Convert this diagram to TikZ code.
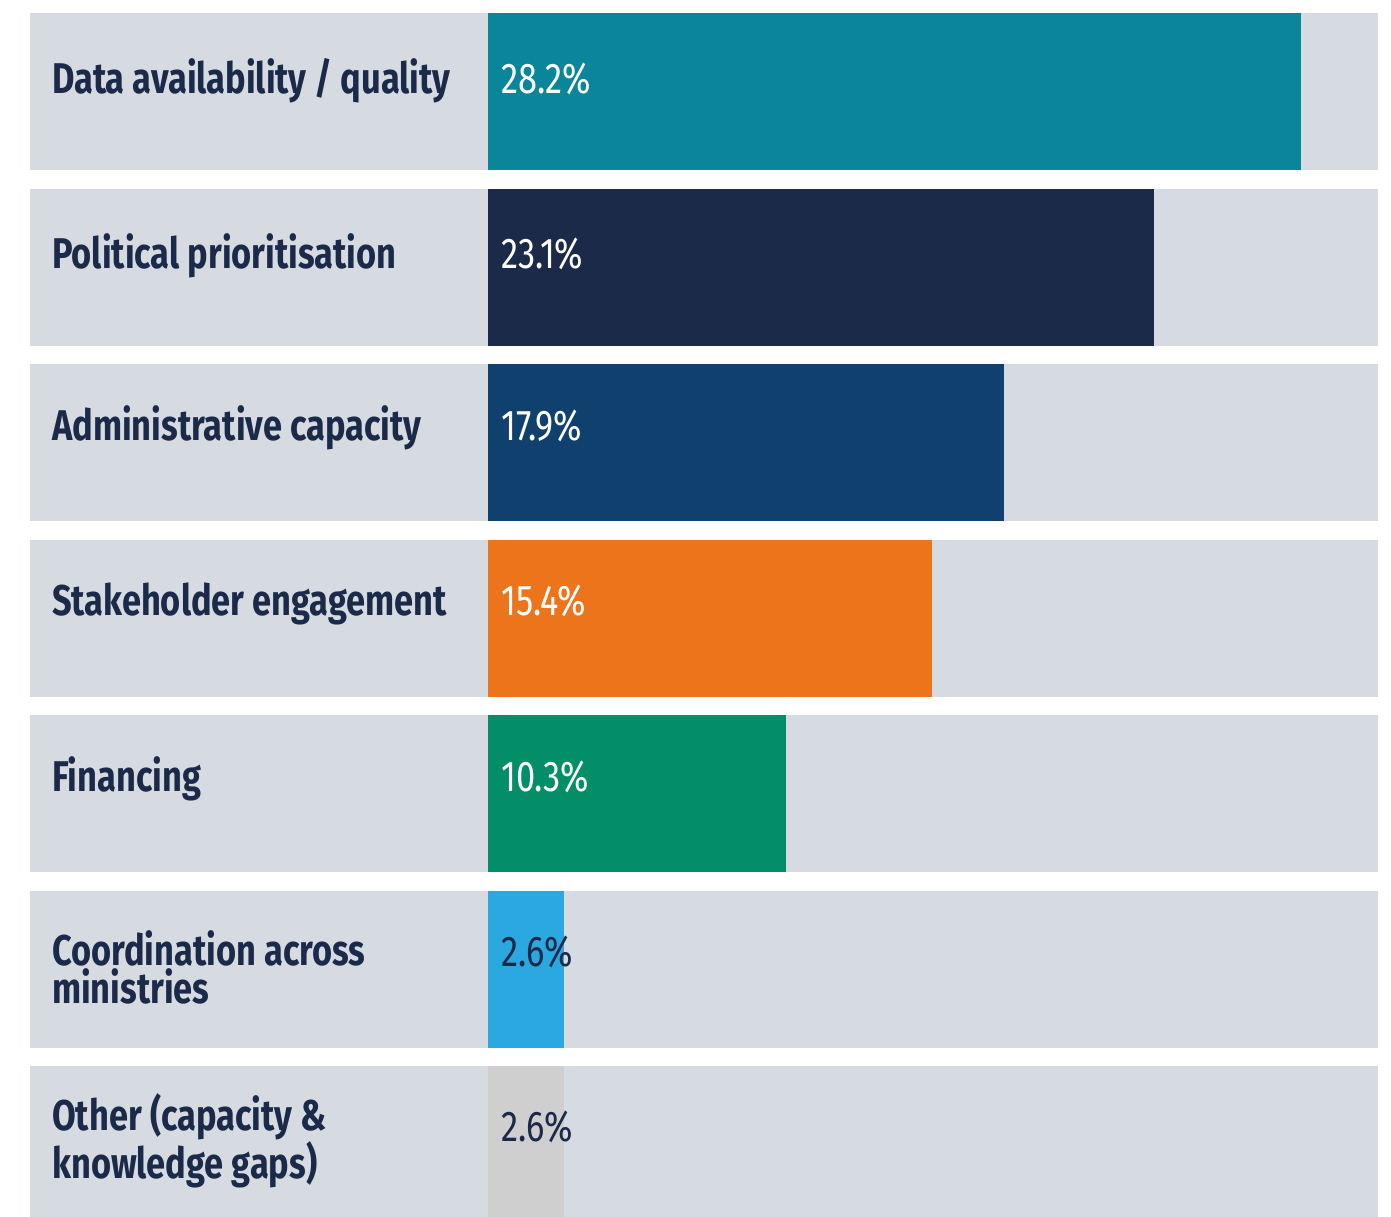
\documentclass[tikz,border=0pt]{standalone}
\usepackage{fontspec}
\setmainfont{Fira Sans}[FakeStretch=0.8]
\usepackage{xcolor}
\usetikzlibrary{positioning}
\definecolor{band}{HTML}{D6DBE2}
\definecolor{ink}{HTML}{1B2A48}
\definecolor{cteal}{HTML}{0A8599}
\definecolor{cnavy}{HTML}{1B2A48}
\definecolor{cblue}{HTML}{10416E}
\definecolor{corange}{HTML}{EC741A}
\definecolor{cgreen}{HTML}{038E68}
\definecolor{csky}{HTML}{2BA8E0}
\definecolor{cgrey}{HTML}{CFCFCF}

\tikzset{
    row/.style={rectangle, fill=band, anchor=north west, inner sep=0pt,
                minimum width=1348pt, minimum height=157pt},
    bar/.style={rectangle, anchor=north west, inner sep=0pt,
                minimum height=157pt},
    lbl/.style={anchor=base west, inner sep=0pt, align=left, text=ink,
                font=\fontsize{43}{37.5}\selectfont\bfseries},
    pct/.style={anchor=base west, inner sep=0pt, text=white,
                font=\fontsize{43}{37.5}\selectfont}
}

\begin{document}
\begin{tikzpicture}[x=1pt, y=-1pt]
    \useasboundingbox (0,0) rectangle (1391,1216);

    % grey bands
    \node[row] (r1) at (30,13) {};
    \node[row] (r2) at (30,189) {};
    \node[row] (r3) at (30,364) {};
    \node[row] (r4) at (30,540) {};
    \node[row] (r5) at (30,715) {};
    \node[row] (r6) at (30,891) {};
    \node[row] (r7) at (30,1066) {};

    % bars, 28.83pt per percent
    \node[bar, fill=cteal,   minimum width=813pt] (b1) at (488,13) {};
    \node[bar, fill=cnavy,   minimum width=666pt] (b2) at (488,189) {};
    \node[bar, fill=cblue,   minimum width=516pt] (b3) at (488,364) {};
    \node[bar, fill=corange, minimum width=444pt] (b4) at (488,540) {};
    \node[bar, fill=cgreen,  minimum width=298pt] (b5) at (488,715) {};
    \node[bar, fill=csky,    minimum width=76pt]  (b6) at (488,891) {};
    \node[bar, fill=cgrey,   minimum width=76pt]  (b7) at (488,1066) {};

    % category labels (two-line ones sit on their last line)
    \node[lbl] (l1) at (52,93) {Data availability / quality};
    \node[lbl] (l2) at (52,268) {Political prioritisation};
    \node[lbl] (l3) at (52,440) {Administrative capacity};
    \node[lbl] (l4) at (52,615) {Stakeholder engagement};
    \node[lbl] (l5) at (52,791) {Financing};
    \node[lbl] (l6) at (52,1003) {Coordination across\\ministries};
    \node[lbl] (l7) at (52,1178) {Other (capacity \&\\knowledge gaps)};

    % values
    \node[pct] (p1) at (501,93) {28.2\%};
    \node[pct] (p2) at (501,268) {23.1\%};
    \node[pct] (p3) at (501,440) {17.9\%};
    \node[pct] (p4) at (501,615) {15.4\%};
    \node[pct] (p5) at (501,791) {10.3\%};
    \node[pct, text=ink] (p6) at (501,966) {2.6\%};
    \node[pct, text=ink] (p7) at (501,1141) {2.6\%};

\end{tikzpicture}
\end{document}
